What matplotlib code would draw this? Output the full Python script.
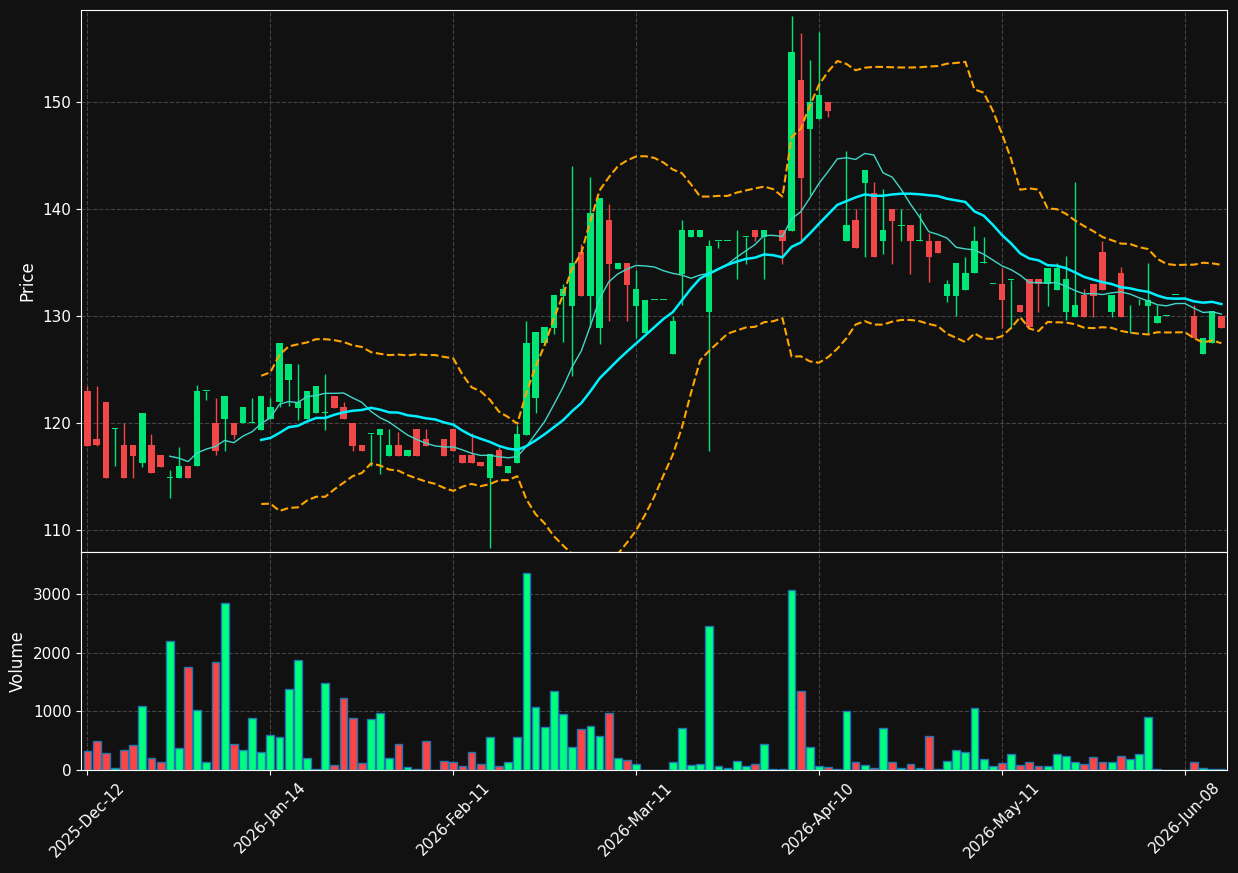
import numpy as np
import pandas as pd
import matplotlib
matplotlib.use('Agg')
import matplotlib.pyplot as plt

nan = np.nan
# OHLC per trading session (nan = no session drawn)
opens = [123.0, 118.5, 122.0, 119.5, 118.0, 118.0, 116.3, 118.0, 117.0, 114.9,
         114.9, 116.0, 116.0, 123.0, 120.0, 120.4, 120.0, 120.0, 120.0, 119.4,
         120.4, 122.0, 124.0, 121.4, 120.4, 121.0, 121.0, 122.5, 121.5, 120.0,
         118.0, 119.0, 118.9, 116.9, 118.0, 116.9, 119.5, 118.5, nan, 118.5,
         119.5, 117.0, 117.0, 116.4, 114.9, 117.5, 115.4, 116.3, 118.9, 122.4,
         127.5, 128.9, 131.9, 130.9, 136.0, 131.9, 128.9, 139.0, 134.4, 135.0,
         130.9, 128.4, 131.5, 131.5, 126.5, 133.9, 137.4, 137.4, 130.4, 137.0,
         137.0, 138.0, 137.4, 138.0, 137.4, 138.0, 138.0, 137.9, 152.0, 147.5,
         148.4, 150.0, 149.1, 137.0, 139.0, 142.4, 141.5, 137.0, 140.0, 138.4,
         138.5, 137.0, 137.0, 137.0, 131.9, 131.9, 132.4, 134.0, 135.0, 133.0,
         133.0, 133.4, 131.0, 133.5, 133.5, 133.0, 132.4, 130.4, 129.9, 132.0,
         133.0, 136.0, 130.4, 134.0, 131.0, 131.0, 130.9, 129.4, 130.0, 132.0,
         nan, 130.0, 126.5, 127.5, 130.0]
closes = [117.9, 118.0, 114.9, 119.5, 114.9, 116.9, 121.0, 115.4, 115.9, 114.9,
          116.0, 114.9, 123.0, 123.0, 117.4, 122.5, 118.9, 121.5, 120.0, 122.5,
          121.5, 127.5, 125.5, 122.0, 123.0, 123.5, 121.0, 121.4, 120.4, 117.9,
          117.4, 119.0, 119.5, 118.0, 116.9, 117.5, 116.9, 117.9, nan, 116.9,
          117.4, 116.3, 116.3, 116.0, 117.1, 116.0, 116.0, 119.0, 127.5, 128.5,
          129.0, 132.0, 132.5, 135.0, 131.9, 139.6, 141.0, 134.9, 135.0, 132.9,
          132.5, 131.5, 131.5, 131.5, 129.5, 138.0, 138.0, 138.0, 136.5, 137.0,
          137.0, 138.0, 137.4, 137.4, 138.0, 138.0, 137.0, 154.6, 142.9, 150.0,
          150.6, 149.1, 149.1, 138.5, 136.4, 143.6, 135.5, 138.0, 138.9, 138.4,
          137.0, 137.0, 135.5, 135.9, 133.0, 135.0, 134.0, 137.0, 135.0, 133.0,
          131.5, 133.4, 130.4, 129.0, 133.0, 134.5, 134.5, 133.5, 131.0, 129.9,
          131.9, 132.4, 132.0, 129.9, 131.0, 131.0, 131.5, 130.0, 130.0, 132.0,
          nan, 128.0, 128.0, 130.5, 128.9]
highs = [123.5, 123.5, 122.0, 119.6, 120.0, 118.0, 121.0, 119.0, 117.0, 115.6,
         117.8, 116.0, 123.6, 123.0, 122.4, 122.5, 120.0, 121.5, 122.4, 122.5,
         122.4, 127.5, 125.5, 125.5, 123.0, 123.5, 124.6, 122.5, 122.0, 120.0,
         118.0, 119.0, 119.5, 119.5, 119.2, 117.5, 119.5, 119.5, nan, 118.5,
         119.5, 117.0, 119.1, 116.4, 117.1, 117.8, 116.0, 119.8, 129.5, 128.5,
         129.0, 132.0, 133.0, 144.0, 136.7, 143.0, 141.0, 140.5, 135.0, 135.0,
         134.3, 131.5, 131.5, 131.5, 130.0, 139.0, 138.0, 138.0, 137.1, 137.0,
         137.0, 138.0, 137.4, 138.0, 138.0, 138.0, 138.0, 158.0, 156.4, 153.9,
         156.5, 150.0, 149.1, 145.4, 140.0, 143.6, 142.5, 141.9, 140.0, 140.0,
         138.5, 139.6, 137.8, 137.0, 133.4, 135.0, 135.5, 138.4, 137.4, 133.0,
         134.5, 133.4, 131.0, 133.5, 133.5, 134.5, 135.0, 135.6, 142.5, 132.5,
         133.0, 137.0, 132.0, 134.6, 131.0, 131.6, 135.0, 131.0, 130.0, 132.0,
         nan, 131.0, 128.0, 130.5, 130.0]
lows = [117.9, 117.9, 114.9, 116.0, 114.9, 114.9, 115.9, 115.4, 115.9, 113.0,
        114.9, 114.9, 116.0, 122.2, 117.0, 117.4, 118.5, 120.0, 120.0, 119.4,
        120.4, 121.5, 121.6, 120.3, 120.4, 121.0, 119.4, 121.4, 120.4, 117.4,
        117.4, 116.0, 115.3, 116.9, 116.9, 116.9, 116.9, 117.9, nan, 116.9,
        117.4, 116.3, 116.3, 116.0, 108.4, 116.0, 115.4, 116.3, 118.9, 121.0,
        127.5, 128.3, 127.6, 124.4, 131.9, 129.0, 127.4, 129.5, 134.4, 129.5,
        128.0, 128.4, 131.5, 131.5, 126.5, 131.0, 137.4, 137.4, 117.4, 136.4,
        137.0, 133.5, 134.9, 137.0, 133.5, 138.0, 134.9, 137.9, 137.0, 141.3,
        148.4, 148.6, 149.1, 137.0, 136.4, 135.5, 135.5, 135.8, 134.9, 137.0,
        133.9, 137.0, 133.2, 135.9, 131.3, 130.0, 132.4, 134.0, 135.0, 133.0,
        128.9, 128.9, 130.4, 129.0, 130.4, 130.9, 132.4, 129.6, 129.9, 129.9,
        129.9, 132.4, 129.9, 129.9, 128.4, 131.0, 128.4, 129.4, 130.0, 132.0,
        nan, 128.0, 126.5, 127.5, 128.9]
volumes = [320, 490, 290, 30, 340, 420, 1090, 200, 130, 2200,
           370, 1760, 1030, 130, 1840, 2850, 440, 340, 880, 300,
           600, 570, 1380, 1870, 200, 20, 1480, 90, 1220, 880,
           120, 870, 970, 200, 440, 50, 10, 490, 0, 150,
           130, 60, 300, 100, 570, 60, 140, 570, 3350, 1070,
           730, 1340, 950, 390, 700, 750, 580, 970, 200, 170,
           100, 0, 0, 0, 140, 720, 80, 100, 2450, 70,
           30, 150, 60, 110, 440, 10, 20, 3070, 1340, 390,
           70, 50, 10, 1010, 130, 80, 40, 720, 130, 40,
           100, 40, 580, 10, 150, 340, 300, 1050, 180, 60,
           120, 270, 80, 130, 60, 70, 270, 230, 130, 100,
           220, 130, 130, 230, 180, 270, 900, 20, 5, 5,
           0, 140, 30, 20, 15]
tick_pos = [0, 20, 40, 60, 80, 100, 120]
tick_labels = ['2025-Dec-12', '2026-Jan-14', '2026-Feb-11', '2026-Mar-11',
               '2026-Apr-10', '2026-May-11', '2026-Jun-08']

bg = '#111111'
up = '#00e676'
down = '#f04848'

df = pd.DataFrame({'o': opens, 'h': highs, 'l': lows, 'c': closes, 'v': volumes})
x = np.arange(len(df))
cf = df['c'].ffill()
ma10 = cf.rolling(10).mean()
ma20 = cf.rolling(20).mean()
sd20 = cf.rolling(20).std()

fig = plt.figure(figsize=(12.38, 8.73), dpi=100, facecolor=bg)
gs = fig.add_gridspec(2, 1, height_ratios=[542, 218], hspace=0,
                      left=0.0655, right=0.991, top=0.989, bottom=0.118)
ax = fig.add_subplot(gs[0])
axv = fig.add_subplot(gs[1], sharex=ax)

for a in (ax, axv):
    a.set_facecolor(bg)
    for s in a.spines.values():
        s.set_color('white')
    a.tick_params(colors='white', labelsize=11)
    a.grid(True, color='#444444', linestyle='--', linewidth=0.8)
    a.set_axisbelow(True)

isup = (df['c'] >= df['o']).values
cols = [up if u else down for u in isup]
ax.vlines(x, df['l'], df['h'], colors=cols, linewidth=1)
body = (df['c'] - df['o']).abs().clip(lower=0.08)
ax.bar(x, body, bottom=df[['o', 'c']].min(axis=1), width=0.7, color=cols)

ax.plot(x, ma10, color='#40d8c8', linewidth=1)
ax.plot(x, ma20, color='#00f0ff', linewidth=1.8)
ax.plot(x, ma20 + 2 * sd20, color='orange', linestyle='--', linewidth=1.5)
ax.plot(x, ma20 - 2 * sd20, color='orange', linestyle='--', linewidth=1.5)
ax.set_ylim(108.0, 158.6)
ax.set_ylabel('Price', color='white', fontsize=12)
ax.tick_params(labelbottom=False)

vcols = ['#00ff7f' if u else '#ff4444' for u in isup]
axv.bar(x, df['v'], width=0.85, color=vcols, edgecolor='#1f77b4', linewidth=1)
axv.set_ylim(0, 3715)
axv.set_ylabel('Volume', color='white', fontsize=12)
axv.set_xlim(-0.7, len(df) - 0.4)
axv.set_xticks(tick_pos)
axv.set_xticklabels(tick_labels, rotation=45, ha='center')

fig.savefig('out.png', facecolor=bg)
